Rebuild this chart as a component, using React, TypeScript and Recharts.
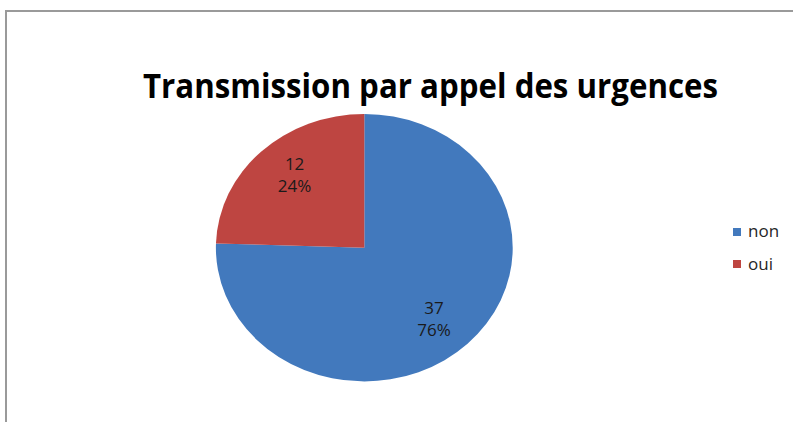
import { PieChart, Pie, Cell } from 'recharts'

const categories = ['non', 'oui']
const counts = [37, 12]
const colors = ['#4279BD', '#BE4541']
const title = 'Transmission par appel des urgences'

const data = categories.map((name, i) => ({ name, value: counts[i] }))

// Excel drew the pie a little wider than tall
const SX = 1.11
const CX = 364.3
const CY = 247.7
const RAD = Math.PI / 180

function SliceLabel(props: any) {
  const { cx, cy, midAngle, outerRadius, value, percent } = props
  const r = outerRadius * 0.75
  const x = cx + r * Math.cos(-midAngle * RAD) * 0.9
  const y = cy + r * Math.sin(-midAngle * RAD)
  return (
    <text
      transform={`translate(${x} ${y}) scale(${1 / SX} 1)`}
      textAnchor="middle"
      fontFamily="'Open Sans', sans-serif"
      fontSize={17}
      fill="#1a1a1a"
    >
      <tspan x={0} dy={-6}>{value}</tspan>
      <tspan x={0} dy={22}>{`${Math.round(percent * 100)}%`}</tspan>
    </text>
  )
}

export default function App() {
  return (
    <div
      style={{
        position: 'absolute',
        left: 0,
        top: 0,
        width: 793,
        height: 422,
        background: '#fff',
        overflow: 'hidden',
      }}
    >
      <div
        style={{
          position: 'absolute',
          left: 5,
          top: 10,
          width: 800,
          height: 420,
          borderLeft: '2px solid #9a9a9a',
          borderTop: '2px solid #9a9a9a',
        }}
      />
      <div
        style={{
          position: 'absolute',
          left: 0,
          top: 0,
          width: 793,
          height: 422,
          transform: `scaleX(${SX})`,
          transformOrigin: `${CX}px ${CY}px`,
        }}
      >
        <PieChart width={793} height={422} margin={{ top: 0, right: 0, bottom: 0, left: 0 }}>
          <Pie
            data={data}
            dataKey="value"
            nameKey="name"
            cx={CX}
            cy={CY}
            outerRadius={133.7}
            startAngle={90}
            endAngle={-270}
            stroke="none"
            label={SliceLabel}
            labelLine={false}
            isAnimationActive={false}
          >
            {data.map((d, i) => (
              <Cell key={d.name} fill={colors[i]} />
            ))}
          </Pie>
        </PieChart>
      </div>
      <svg
        width={793}
        height={422}
        style={{ position: 'absolute', left: 0, top: 0, pointerEvents: 'none' }}
      >
        <text
          x={143}
          y={97.5}
          textLength={575}
          lengthAdjust="spacingAndGlyphs"
          fontFamily="'Open Sans', sans-serif"
          fontWeight="bold"
          fontSize={34}
          fill="#000"
        >
          {title}
        </text>
        {categories.map((c, i) => (
          <g key={c}>
            <rect x={733} y={228} width={8} height={8} transform={`translate(0 ${i * 32})`} fill={colors[i]} />
            <text
              x={748}
              y={237 + i * 33}
              fontFamily="'Open Sans', sans-serif"
              fontSize={17}
              fill="#262626"
            >
              {c}
            </text>
          </g>
        ))}
      </svg>
    </div>
  )
}
